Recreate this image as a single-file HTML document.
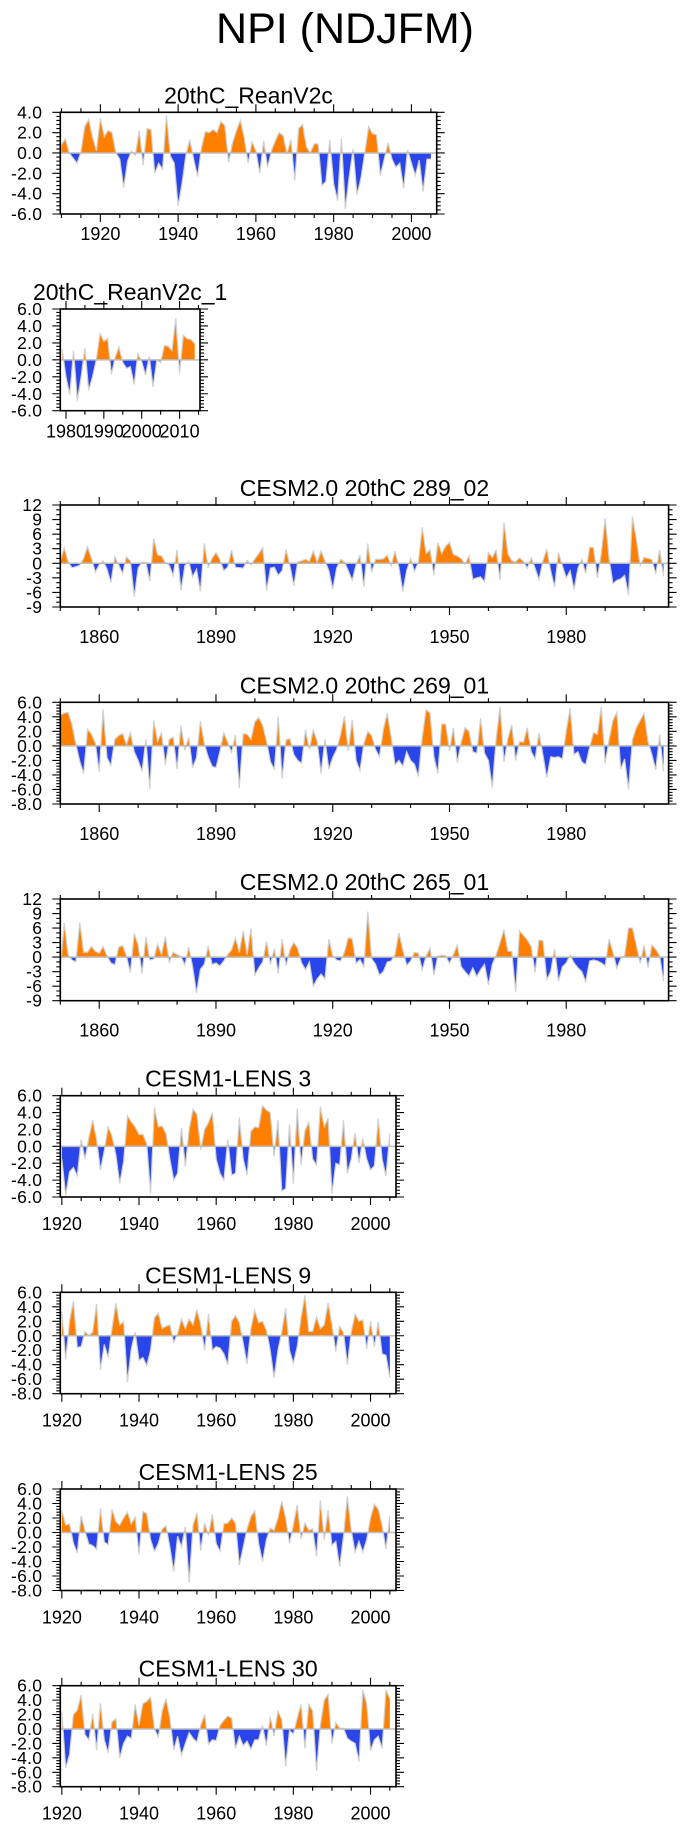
<!DOCTYPE html>
<html><head><meta charset="utf-8"><title>NPI (NDJFM)</title>
<style>
html,body{margin:0;padding:0;background:#fff;}
svg{display:block;font-family:"Liberation Sans",Arial,sans-serif;}
</style></head>
<body>
<svg id="fig" width="691" height="1828" viewBox="0 0 691 1828" xmlns="http://www.w3.org/2000/svg">
<rect x="0" y="0" width="691" height="1828" fill="#fff"/>
<text x="345" y="43" font-size="43" text-anchor="middle" fill="#000">NPI (NDJFM)</text>
</svg>
<script>
// ---------------- data ----------------
const P1_TITLE = "20thC_ReanV2c";
const P1_START = 1910;
const P1_VALUES = [0.8,1.4,0.0,-0.5,-1.0,0.1,2.6,3.3,1.5,0.2,3.4,1.6,2.2,2.0,0.0,-0.6,-3.4,-0.8,0.2,-0.2,
2.2,-1.2,2.4,2.3,-2.0,-1.0,-1.6,3.7,-0.3,-1.0,-5.2,-3.0,-0.2,1.3,-0.6,-2.3,0.5,2.1,2.0,2.3,
2.0,3.1,2.7,-0.9,1.0,2.2,3.2,1.5,-1.0,1.1,0.2,-2.0,1.2,-1.4,0.2,1.2,2.0,1.7,-0.1,1.3,
-2.7,2.4,2.8,0.6,0.0,0.9,0.9,-3.2,-2.8,1.3,-3.0,-4.7,1.4,-5.5,-2.3,0.4,-4.1,-2.5,0.0,2.6,
1.9,1.8,-2.2,-0.6,1.0,-0.6,-1.4,-1.0,-3.5,0.3,-1.0,-2.2,-0.7,-3.8,-0.6,-0.6];
const P1_YTICKS = [4,2,0,-2,-4,-6];
const P1_YLABELS = ["4.0","2.0","0.0","-2.0","-4.0","-6.0"];
const P1_XTICKS = [1920,1940,1960,1980,2000];

const P2_TITLE = "20thC_ReanV2c_1";
const P2_START = 1979;
const P2_VALUES = [1.2,-2.0,-4.1,1.1,-4.8,-2.0,1.4,-3.6,-2.0,0.0,3.1,2.2,2.5,-1.7,0.3,1.5,-0.3,-1.0,-0.8,-2.9,
0.7,-0.2,-1.8,0.4,-3.2,0.0,-0.3,1.7,1.6,1.1,4.9,-1.6,2.9,2.5,2.4,1.9];
const P2_YTICKS = [6,4,2,0,-2,-4,-6];
const P2_YLABELS = ["6.0","4.0","2.0","0.0","-2.0","-4.0","-6.0"];
const P2_XTICKS = [1980,1990,2000,2010];

const P3_TITLE = "CESM2.0 20thC 289_02";
const P3_START = 1850;
const P3_VALUES = [0.4,3.2,0.3,-0.9,-0.7,-0.4,1.0,3.4,1.0,-1.8,-0.3,0.5,-1.2,-4.0,1.3,-0.3,-2.1,1.3,0.5,-6.9,
-1.0,0.2,0.2,-3.7,5.1,1.7,1.5,0.1,-0.4,-2.5,2.8,-5.6,-0.5,0.4,-2.8,-1.2,-5.8,4.1,-0.8,1.0,
2.2,0.8,-1.5,-0.8,2.7,-0.8,-0.9,-1.0,0.6,-0.3,0.9,2.0,3.2,-5.6,-1.0,-0.8,-2.5,-1.5,2.8,-0.5,
-4.6,0.3,0.5,0.8,0.4,2.5,0.2,2.5,0.5,-1.5,-5.3,-1.0,0.8,0.3,-1.5,-3.5,-0.3,1.7,-4.9,4.1,
-1.8,0.8,0.8,0.9,1.7,-0.5,2.5,-0.8,-5.8,-1.5,1.0,-1.7,0.2,7.4,2.0,2.8,-2.5,4.2,2.0,3.5,
4.3,1.8,1.5,1.0,-0.2,1.5,-3.3,-3.0,-2.8,-3.8,2.2,1.2,2.7,-3.4,8.4,2.0,0.5,0.3,1.1,0.4,
-1.0,1.1,-1.0,-3.4,0.5,2.9,-1.5,-4.9,2.2,-0.5,-3.0,-1.5,-5.4,-1.0,0.8,-2.1,3.3,3.2,-3.0,2.0,
9.3,1.0,-4.2,-3.5,-3.2,-2.5,-6.5,9.6,5.0,-0.5,1.2,1.0,0.8,-2.2,2.8,-2.7];
const P3_YTICKS = [12,9,6,3,0,-3,-6,-9];
const P3_YLABELS = ["12","9","6","3","0","-3","-6","-9"];
const P3_XTICKS = [1860,1890,1920,1950,1980];

const P4_TITLE = "CESM2.0 20thC 269_01";
const P4_START = 1850;
const P4_VALUES = [4.2,4.5,4.6,2.9,0.2,-2.1,-3.8,2.3,1.6,0.4,-3.6,5.0,-1.6,-2.7,0.9,1.4,1.7,0.2,1.8,-0.8,
-2.0,-3.5,0.9,-5.9,3.5,0.6,1.8,-2.6,0.9,1.2,-3.2,2.8,-0.6,1.2,-3.0,-1.6,3.4,0.3,-1.5,-2.8,
-3.0,-0.8,1.8,0.5,-0.9,1.5,-5.8,1.7,1.6,0.9,3.3,3.9,2.8,0.6,-2.2,-3.2,4.0,-4.5,0.8,1.0,
-1.2,-2.0,-2.4,2.2,-0.5,2.2,0.6,-3.8,0.9,-3.2,-1.6,-0.5,1.5,4.1,-0.7,3.6,-2.0,-3.4,0.3,2.0,
1.4,-0.5,-1.5,2.2,4.5,1.2,-2.6,-2.0,-2.8,-0.8,-2.0,-2.5,-4.2,1.2,5.0,4.5,-1.5,-3.8,3.0,3.0,
-0.7,2.5,-2.3,0.5,2.5,2.0,-0.8,-1.0,3.8,-1.0,-2.0,-5.7,1.0,5.4,-2.2,1.0,2.9,-2.0,0.6,0.5,
2.5,-0.8,-1.8,1.8,-1.2,-4.4,-1.5,-1.6,-1.5,-1.8,2.0,5.2,-1.2,-0.8,-2.2,-2.6,-0.2,1.8,1.6,5.4,
-2.4,0.8,3.5,4.6,-3.2,-1.8,-6.0,0.8,2.5,3.5,4.5,0.6,-1.2,-3.3,1.5,-3.5];
const P4_YTICKS = [6,4,2,0,-2,-4,-6,-8];
const P4_YLABELS = ["6.0","4.0","2.0","0.0","-2.0","-4.0","-6.0","-8.0"];
const P4_XTICKS = [1860,1890,1920,1950,1980];

const P5_TITLE = "CESM2.0 20thC 265_01";
const P5_START = 1850;
const P5_VALUES = [-2.5,7.0,0.5,-0.6,-1.0,7.2,1.0,1.0,2.2,1.2,0.8,2.2,0.3,-1.2,-1.6,2.0,2.4,0.2,-3.2,4.9,
2.5,-3.4,4.2,-0.6,-0.4,2.7,0.5,4.2,-1.0,1.0,0.5,0.1,-1.6,2.1,-2.0,-7.4,-2.5,-1.5,2.3,-1.5,
-1.2,-1.8,-0.8,0.5,1.5,3.9,1.0,5.4,0.5,5.9,-3.7,-2.2,-1.0,3.2,-1.5,1.8,-3.4,3.7,-1.8,1.5,
3.0,1.8,-1.2,-2.6,-1.0,-6.0,-4.5,-3.5,-4.5,3.7,0.3,-0.6,-0.8,1.0,4.0,3.8,-1.3,-0.5,-2.0,9.4,
-0.3,-1.5,-3.7,-3.0,-1.0,-0.8,0.5,5.0,1.5,-1.7,-0.8,1.0,0.8,-2.6,0.2,1.9,-3.7,0.2,0.4,0.3,
-1.3,0.5,2.5,-2.0,-3.0,-3.9,-2.2,-4.0,-2.6,-1.5,-5.7,-1.5,0.5,3.0,5.7,1.2,1.2,-7.2,5.4,4.5,
3.5,2.2,-3.2,3.5,3.4,-4.6,-3.0,1.7,-5.0,-2.0,-1.2,0.4,-1.2,-2.2,-3.0,-5.1,-0.8,-0.6,-0.8,-1.2,
-1.8,3.7,1.0,-2.3,-0.3,0.3,6.0,6.0,2.5,-1.3,2.5,-2.2,2.5,1.6,0.3,-5.0];
const P5_YTICKS = [12,9,6,3,0,-3,-6,-9];
const P5_YLABELS = ["12","9","6","3","0","-3","-6","-9"];
const P5_XTICKS = [1860,1890,1920,1950,1980];

const P6_TITLE = "CESM1-LENS 3";
const P6_START = 1920;
const P6_VALUES = [-1.5,-5.8,-3.0,-2.5,-3.5,0.8,-1.5,1.0,3.1,0.8,-2.8,-0.5,2.3,1.2,-1.0,-4.4,-1.8,3.6,2.9,2.3,
1.4,1.4,0.3,-5.6,4.6,2.3,2.4,1.5,-1.5,-4.0,-3.2,2.2,-2.4,2.0,4.4,3.8,-0.4,2.0,2.8,4.0,
-1.5,-3.2,-4.0,0.8,-3.4,-3.2,3.4,-1.5,-3.4,1.8,2.3,2.2,4.8,4.3,4.0,-1.2,3.1,-5.3,-5.0,2.6,
-4.4,4.5,-2.2,1.8,2.9,-1.5,-2.2,4.7,2.3,3.3,-5.6,-2.0,-2.2,3.1,-3.2,-1.5,1.6,-2.0,0.9,-1.5,
-2.8,-2.3,3.3,-1.5,-3.5,1.5];
const P6_YTICKS = [6,4,2,0,-2,-4,-6];
const P6_YLABELS = ["6.0","4.0","2.0","0.0","-2.0","-4.0","-6.0"];
const P6_XTICKS = [1920,1940,1960,1980,2000];

const P7_TITLE = "CESM1-LENS 9";
const P7_START = 1920;
const P7_VALUES = [3.3,-3.3,2.0,4.8,-1.6,-1.5,0.6,0.0,0.5,4.4,-4.7,-1.2,-3.0,1.0,4.5,1.5,1.9,-6.4,-1.8,0.5,
-3.4,-3.0,-4.1,-2.0,2.5,3.1,1.0,1.3,1.5,-0.9,0.3,2.3,1.0,2.3,1.5,3.6,1.5,-2.0,3.0,-2.0,
-1.5,-1.7,-2.5,-4.0,2.0,2.8,1.8,-1.0,-3.9,1.0,3.5,1.8,2.0,0.8,-2.0,-5.8,-2.0,0.5,3.8,-2.0,
-3.8,-1.5,2.5,5.6,0.6,0.6,2.6,1.0,1.5,4.5,1.5,-2.2,1.3,0.4,-4.0,0.5,3.0,2.0,2.2,-1.8,
2.0,-1.5,1.9,-2.5,-2.7,-5.8];
const P7_YTICKS = [6,4,2,0,-2,-4,-6,-8];
const P7_YLABELS = ["6.0","4.0","2.0","0.0","-2.0","-4.0","-6.0","-8.0"];
const P7_XTICKS = [1920,1940,1960,1980,2000];

const P8_TITLE = "CESM1-LENS 25";
const P8_START = 1920;
const P8_VALUES = [3.0,1.0,1.2,-1.5,-2.8,2.3,0.2,-1.6,-1.8,-2.3,3.3,-1.3,-1.7,3.2,1.5,1.0,2.0,2.8,1.2,2.1,
-3.0,2.9,2.6,-1.0,-2.6,-1.5,0.5,0.9,-2.0,-5.4,-0.5,-2.0,0.8,-6.9,1.0,2.7,-2.5,1.3,-0.4,2.5,
-1.5,-2.6,1.2,1.3,2.0,1.3,-4.5,-2.0,0.5,2.2,3.0,-1.5,-4.0,-1.0,0.6,0.3,2.0,4.3,2.0,-1.5,
1.0,3.8,-0.9,1.3,0.3,0.5,-3.3,4.4,-1.0,3.1,-1.8,-1.2,-4.7,-0.5,5.0,0.3,-2.7,-1.2,-2.7,-1.0,
2.0,3.9,3.2,1.0,-2.3,2.3];
const P8_YTICKS = [6,4,2,0,-2,-4,-6,-8];
const P8_YLABELS = ["6.0","4.0","2.0","0.0","-2.0","-4.0","-6.0","-8.0"];
const P8_XTICKS = [1920,1940,1960,1980,2000];

const P9_TITLE = "CESM1-LENS 30";
const P9_START = 1920;
const P9_VALUES = [2.4,-5.4,-3.5,2.0,2.6,4.7,-0.8,-1.5,2.1,-2.9,3.6,-1.5,-3.3,1.0,1.4,-4.0,-2.0,-1.0,-1.3,3.4,
0.5,3.5,3.8,4.4,0.0,-1.1,2.5,4.2,1.5,-2.9,-1.0,-3.6,-2.0,-0.5,-1.3,-1.8,0.5,2.0,-2.1,-1.5,
-1.6,0.5,1.2,1.8,1.5,-2.7,-1.0,-2.3,-1.7,-2.8,-1.5,-1.5,0.5,-2.3,1.7,-1.0,2.5,1.3,-5.2,-0.2,
-0.7,1.5,3.4,-2.7,3.4,2.5,-5.8,0.5,4.0,4.8,-2.0,0.9,0.1,0.1,-1.3,-1.7,-2.0,-4.5,5.4,3.5,
-3.0,-1.5,-1.0,-2.7,5.4,4.2];
const P9_YTICKS = [6,4,2,0,-2,-4,-6,-8];
const P9_YLABELS = ["6.0","4.0","2.0","0.0","-2.0","-4.0","-6.0","-8.0"];
const P9_XTICKS = [1920,1940,1960,1980,2000];

// ---------------- layout (not data) ----------------
const NS = "http://www.w3.org/2000/svg";
const svg = document.getElementById("fig");
const layouts = [
 {id:"reanv2c",      title:P1_TITLE,start:P1_START,vals:P1_VALUES,yt:P1_YTICKS,yl:P1_YLABELS,xt:P1_XTICKS,L:60.3,R:436.7,T:112.3,B:214,  x0:1909.7,x1:2006.5,y0:-6,y1:4, ymin:0.4,xmin:5, xo:26},
 {id:"reanv2c-1",    title:P2_TITLE,start:P2_START,vals:P2_VALUES,yt:P2_YTICKS,yl:P2_YLABELS,xt:P2_XTICKS,L:60.3,R:200,  T:309,  B:410.7,x0:1978.5,x1:2015.4,y0:-6,y1:6, ymin:0.4,xmin:5, xo:27},
 {id:"cesm2-289-02", title:P3_TITLE,start:P3_START,vals:P3_VALUES,yt:P3_YTICKS,yl:P3_YLABELS,xt:P3_XTICKS,L:60.3,R:668.6,T:505,  B:607,  x0:1850,x1:2006.3,y0:-9,y1:12,ymin:1,xmin:10,xo:36},
 {id:"cesm2-269-01", title:P4_TITLE,start:P4_START,vals:P4_VALUES,yt:P4_YTICKS,yl:P4_YLABELS,xt:P4_XTICKS,L:60.3,R:668.6,T:702.3,B:804,  x0:1850,x1:2006.3,y0:-8,y1:6, ymin:0.4,xmin:10,xo:36},
 {id:"cesm2-265-01", title:P5_TITLE,start:P5_START,vals:P5_VALUES,yt:P5_YTICKS,yl:P5_YLABELS,xt:P5_XTICKS,L:60.3,R:668.6,T:899,  B:1000.7,x0:1850,x1:2006.3,y0:-9,y1:12,ymin:1,xmin:10,xo:36},
 {id:"lens-3",       title:P6_TITLE,start:P6_START,vals:P6_VALUES,yt:P6_YTICKS,yl:P6_YLABELS,xt:P6_XTICKS,L:60.3,R:396,  T:1095.7,B:1197, x0:1919.6,x1:2006.6,y0:-6,y1:6, ymin:0.4,xmin:5, xo:33},
 {id:"lens-9",       title:P7_TITLE,start:P7_START,vals:P7_VALUES,yt:P7_YTICKS,yl:P7_YLABELS,xt:P7_XTICKS,L:60.3,R:396,  T:1292.3,B:1393.7,x0:1919.6,x1:2006.6,y0:-8,y1:6,ymin:0.4,xmin:5, xo:33},
 {id:"lens-25",      title:P8_TITLE,start:P8_START,vals:P8_VALUES,yt:P8_YTICKS,yl:P8_YLABELS,xt:P8_XTICKS,L:60.3,R:396,  T:1489, B:1590.5,x0:1919.6,x1:2006.6,y0:-8,y1:6, ymin:0.4,xmin:5, xo:33},
 {id:"lens-30",      title:P9_TITLE,start:P9_START,vals:P9_VALUES,yt:P9_YTICKS,yl:P9_YLABELS,xt:P9_XTICKS,L:60.3,R:396,  T:1685.7,B:1786.7,x0:1919.6,x1:2006.6,y0:-8,y1:6,ymin:0.4,xmin:5, xo:33}
];

function mk(tag, attrs, parent){
  const e = document.createElementNS(NS, tag);
  for (const k in attrs) e.setAttribute(k, attrs[k]);
  (parent||svg).appendChild(e);
  return e;
}

layouts.forEach(function(p){
  const g = mk("g", {});
  
  
  const xs = function(yr){ return p.L + (yr - p.x0) / (p.x1 - p.x0) * (p.R - p.L); };
  const ys = function(v){ return p.B - (v - p.y0) / (p.y1 - p.y0) * (p.B - p.T); };

  const t = mk("text", {x:(p.L+p.R)/2, y:p.T-9, "font-size":23, "text-anchor":"middle", fill:"#000"}, g);
  t.textContent = p.title;
  
  

  const pts = [];
  for (let i=0;i<p.vals.length;i++){
    const x = xs(p.start + i), v = p.vals[i];
    if (i>0){
      const pv = p.vals[i-1];
      if ((pv>0 && v<0) || (pv<0 && v>0)){
        const px = xs(p.start + i - 1);
        const f = pv/(pv - v);
        pts.push({x: px + f*(x-px), v: 0});
      }
    }
    pts.push({x:x, v:v});
  }
  const z = ys(0);
  const first = pts[0].x, last = pts[pts.length-1].x;
  let pos = first+","+z, neg = first+","+z;
  pts.forEach(function(q){
    pos += " " + q.x.toFixed(2) + "," + ys(Math.max(q.v,0)).toFixed(2);
    neg += " " + q.x.toFixed(2) + "," + ys(Math.min(q.v,0)).toFixed(2);
  });
  pos += " " + last + "," + z;
  neg += " " + last + "," + z;
  const pa = mk("polygon", {points:pos, fill:"#ff8000", stroke:"none"}, g);
  
  
  const na = mk("polygon", {points:neg, fill:"#2a46ea", stroke:"none"}, g);
  
  
  const line = mk("polyline", {points: pts.map(function(q){return q.x.toFixed(2)+","+ys(q.v).toFixed(2);}).join(" "), fill:"none", stroke:"#d0d0d0", "stroke-width":1.2}, g);
  
  
  const zl = mk("line", {x1:p.L, x2:p.R, y1:z, y2:z, stroke:"#bdbdbd", "stroke-width":1.5}, g);
  
  

  const fr = mk("rect", {x:p.L, y:p.T, width:p.R-p.L, height:p.B-p.T, fill:"none", stroke:"#000", "stroke-width":1.6}, g);
  
  

  let tk = "";
  for (let v = p.y0; v <= p.y1 + 1e-6; v += p.ymin){
    const y = ys(v).toFixed(2);
    tk += "M"+p.L+" "+y+"h-4M"+p.R+" "+y+"h4";
  }
  p.yt.forEach(function(v){
    const y = ys(v).toFixed(2);
    tk += "M"+p.L+" "+y+"h-8M"+p.R+" "+y+"h8";
  });
  const xmin0 = Math.ceil(p.x0 / p.xmin) * p.xmin;
  for (let yr = xmin0; yr <= p.x1; yr += p.xmin){
    const x = xs(yr).toFixed(2);
    tk += "M"+x+" "+p.B+"v4M"+x+" "+p.T+"v-4";
  }
  p.xt.forEach(function(yr){
    const x = xs(yr).toFixed(2);
    tk += "M"+x+" "+p.B+"v8M"+x+" "+p.T+"v-8";
  });
  const ticks = mk("path", {d:tk, stroke:"#000", "stroke-width":1.1, fill:"none"}, g);
  
  

  p.yt.forEach(function(v, k){
    const lb = mk("text", {x:p.L-18, y:ys(v)+6, "font-size":17.5, "text-anchor":"end", fill:"#000", "letter-spacing":"0.3"}, g);
    lb.textContent = p.yl[k];
    
    
  });
  p.xt.forEach(function(yr){
    const lb = mk("text", {x:xs(yr), y:p.B+p.xo, "font-size":18, "text-anchor":"middle", fill:"#000"}, g);
    lb.textContent = String(yr);
    
    
  });
});
</script>
</body></html>
